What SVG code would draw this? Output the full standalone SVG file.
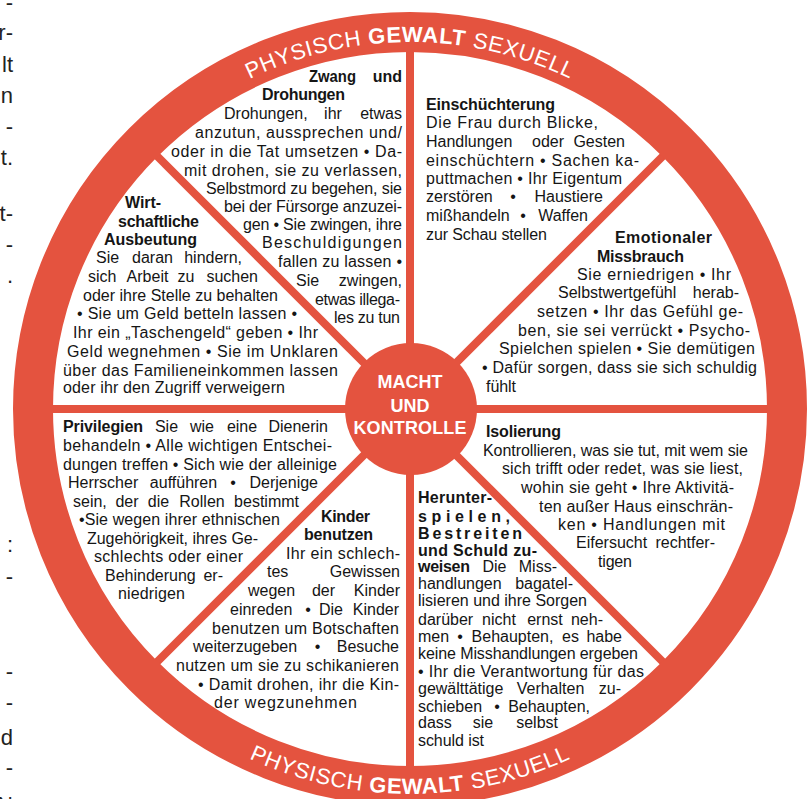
<svg xmlns="http://www.w3.org/2000/svg" width="808" height="799" viewBox="0 0 808 799">
<defs>
<style>
.t{font-family:"Liberation Sans",Arial,sans-serif;font-size:16px;fill:#151515}
.b{font-weight:bold}
.e{text-anchor:end}
.m{text-anchor:middle}
.ring{font-family:"Liberation Sans",Arial,sans-serif;font-size:22px;fill:#fff;letter-spacing:0.7px}
.c{font-family:"Liberation Sans",Arial,sans-serif;font-size:18px;font-weight:bold;fill:#fff;text-anchor:middle}
.spoke{stroke:#E4533F;stroke-width:8}
.frag{font-family:"Liberation Sans",Arial,sans-serif;font-size:22px;fill:#222;text-anchor:end}
</style>
<path id="arcTop" d="M 43 409 A 367 367 0 0 1 777 409"/>
<path id="arcBot" d="M 25 409 A 385 385 0 0 0 795 409"/>
</defs>
<rect width="808" height="799" fill="#fff"/>

<g id="margin-fragments">
<text class="frag" x="13" y="10">-</text>
<text class="frag" x="13" y="40">r-</text>
<text class="frag" x="13" y="72">lt</text>
<text class="frag" x="13" y="103">n</text>
<text class="frag" x="13" y="134">-</text>
<text class="frag" x="13" y="165">t.</text>
<text class="frag" x="13" y="221">t-</text>
<text class="frag" x="13" y="252">-</text>
<text class="frag" x="13" y="283">.</text>
<text class="frag" x="13" y="552">:</text>
<text class="frag" x="13" y="584">-</text>
<text class="frag" x="13" y="679">-</text>
<text class="frag" x="13" y="710">-</text>
<text class="frag" x="13" y="745">d</text>
<text class="frag" x="13" y="775">-</text>
<text class="frag" x="13" y="812">N</text>
</g>

<g id="connectors">
<line class="spoke" x1="410" y1="409" x2="410" y2="40"/>
<line class="spoke" x1="410" y1="409" x2="410" y2="778"/>
<line class="spoke" x1="410" y1="409" x2="41" y2="409"/>
<line class="spoke" x1="410" y1="409" x2="779" y2="409"/>
<line class="spoke" x1="410" y1="409" x2="149" y2="148"/>
<line class="spoke" x1="410" y1="409" x2="671" y2="148"/>
<line class="spoke" x1="410" y1="409" x2="149" y2="670"/>
<line class="spoke" x1="410" y1="409" x2="671" y2="670"/>
</g>

<g id="ring">
<circle cx="410" cy="409" r="377" fill="none" stroke="#E4533F" stroke-width="40"/>
<text class="ring"><textPath href="#arcTop" startOffset="50%" text-anchor="middle">PHYSISCH <tspan font-weight="bold">GEWALT</tspan> SEXUELL</textPath></text>
<text class="ring"><textPath href="#arcBot" startOffset="50%" text-anchor="middle">PHYSISCH <tspan font-weight="bold">GEWALT</tspan> SEXUELL</textPath></text>
</g>

<g id="center">
<circle cx="411" cy="409" r="66" fill="#E4533F"/>
<text class="c" x="410" y="388">MACHT</text>
<text class="c" x="410" y="412">UND</text>
<text class="c" x="410" y="434" textLength="113" lengthAdjust="spacing">KONTROLLE</text>
</g>

<g id="zwang">
<text class="t b" x="309" y="82" textLength="47" lengthAdjust="spacingAndGlyphs">Zwang</text>
<text class="t b e" x="402" y="82">und</text>
<text class="t b" x="262" y="100" textLength="83" lengthAdjust="spacing">Drohungen</text>
<text class="t" x="224" y="119">Drohungen,</text>
<text class="t m" x="333" y="119">ihr</text>
<text class="t e" x="402" y="119">etwas</text>
<text class="t" x="195" y="138" textLength="207" lengthAdjust="spacing">anzutun, aussprechen und/</text>
<text class="t" x="171" y="157" textLength="231" lengthAdjust="spacing">oder in die Tat umsetzen • Da-</text>
<text class="t" x="184" y="176" textLength="218" lengthAdjust="spacing">mit drohen, sie zu verlassen,</text>
<text class="t" x="206" y="194" textLength="196" lengthAdjust="spacing">Selbstmord zu begehen, sie</text>
<text class="t" x="224" y="212" textLength="178" lengthAdjust="spacing">bei der Fürsorge anzuzei-</text>
<text class="t" x="243" y="230" textLength="159" lengthAdjust="spacing">gen • Sie zwingen, ihre</text>
<text class="t" x="262" y="248" textLength="140" lengthAdjust="spacing">Beschuldigungen</text>
<text class="t" x="278" y="267" textLength="124" lengthAdjust="spacing">fallen zu lassen •</text>
<text class="t" x="296" y="286">Sie</text>
<text class="t e" x="402" y="286">zwingen,</text>
<text class="t" x="315" y="305" textLength="85" lengthAdjust="spacing">etwas illega-</text>
<text class="t" x="334" y="323" textLength="66" lengthAdjust="spacing">les zu tun</text>
</g>

<g id="einschuechterung">
<text class="t b" x="426" y="110" textLength="129" lengthAdjust="spacing">Einschüchterung</text>
<text class="t" x="426" y="128" textLength="172" lengthAdjust="spacing">Die Frau durch Blicke,</text>
<text class="t" x="426" y="147">Handlungen</text>
<text class="t m" x="548" y="147">oder</text>
<text class="t e" x="625" y="147">Gesten</text>
<text class="t" x="426" y="166" textLength="213" lengthAdjust="spacing">einschüchtern • Sachen ka-</text>
<text class="t" x="426" y="184" textLength="196" lengthAdjust="spacing">puttmachen • Ihr Eigentum</text>
<text class="t" x="426" y="202">zerstören</text>
<text class="t m" x="513" y="202">•</text>
<text class="t e" x="603" y="202">Haustiere</text>
<text class="t" x="426" y="221">mißhandeln</text>
<text class="t m" x="523" y="221">•</text>
<text class="t e" x="588" y="221">Waffen</text>
<text class="t" x="426" y="240" textLength="121" lengthAdjust="spacing">zur Schau stellen</text>
</g>

<g id="emotionaler-missbrauch">
<text class="t b" x="615" y="243" textLength="97" lengthAdjust="spacing">Emotionaler</text>
<text class="t b" x="597" y="262" textLength="87" lengthAdjust="spacing">Missbrauch</text>
<text class="t" x="577" y="280" textLength="154" lengthAdjust="spacing">Sie erniedrigen • Ihr</text>
<text class="t" x="558" y="298">Selbstwertgefühl</text>
<text class="t e" x="739" y="298">herab-</text>
<text class="t" x="537" y="317" textLength="206" lengthAdjust="spacing">setzen • Ihr das Gefühl ge-</text>
<text class="t" x="518" y="336" textLength="232" lengthAdjust="spacing">ben, sie sei verrückt • Psycho-</text>
<text class="t" x="499" y="354" textLength="256" lengthAdjust="spacing">Spielchen spielen • Sie demütigen</text>
<text class="t" x="482" y="373" textLength="275" lengthAdjust="spacing">• Dafür sorgen, dass sie sich schuldig</text>
<text class="t" x="486" y="392" textLength="30" lengthAdjust="spacing">fühlt</text>
</g>

<g id="wirtschaftliche-ausbeutung">
<text class="t b" x="125" y="208" textLength="36" lengthAdjust="spacing">Wirt-</text>
<text class="t b" x="118" y="227" textLength="81" lengthAdjust="spacing">schaftliche</text>
<text class="t b" x="104" y="245" textLength="93" lengthAdjust="spacing">Ausbeutung</text>
<text class="t" x="96" y="263">Sie</text>
<text class="t m" x="152.5" y="263">daran</text>
<text class="t e" x="242" y="263">hindern,</text>
<text class="t" x="88" y="282">sich</text>
<text class="t m" x="147.5" y="282">Arbeit</text>
<text class="t m" x="186" y="282">zu</text>
<text class="t e" x="258" y="282">suchen</text>
<text class="t" x="83" y="301" textLength="195" lengthAdjust="spacing">oder ihre Stelle zu behalten</text>
<text class="t" x="77" y="319" textLength="220" lengthAdjust="spacing">• Sie um Geld betteln lassen •</text>
<text class="t" x="73" y="338" textLength="245" lengthAdjust="spacing">Ihr ein „Taschengeld“ geben • Ihr</text>
<text class="t" x="67" y="357" textLength="271" lengthAdjust="spacing">Geld wegnehmen • Sie im Unklaren</text>
<text class="t" x="63" y="376" textLength="275" lengthAdjust="spacing">über das Familieneinkommen lassen</text>
<text class="t" x="63" y="393" textLength="222" lengthAdjust="spacing">oder ihr den Zugriff verweigern</text>
</g>

<g id="privilegien">
<text class="t b" x="63" y="432" textLength="80" lengthAdjust="spacing">Privilegien</text>
<text class="t m" x="166.5" y="432">Sie</text>
<text class="t m" x="202" y="432">wie</text>
<text class="t m" x="242" y="432">eine</text>
<text class="t e" x="328" y="432">Dienerin</text>
<text class="t" x="63" y="451" textLength="269" lengthAdjust="spacing">behandeln • Alle wichtigen Entschei-</text>
<text class="t" x="63" y="470" textLength="274" lengthAdjust="spacing">dungen treffen • Sich wie der alleinige</text>
<text class="t" x="68" y="488">Herrscher</text>
<text class="t m" x="183.5" y="488">aufführen</text>
<text class="t m" x="233" y="488">•</text>
<text class="t e" x="318" y="488">Derjenige</text>
<text class="t" x="73" y="507">sein,</text>
<text class="t m" x="127" y="507">der</text>
<text class="t m" x="158.5" y="507">die</text>
<text class="t m" x="202" y="507">Rollen</text>
<text class="t e" x="299" y="507">bestimmt</text>
<text class="t" x="79" y="525" textLength="201" lengthAdjust="spacing">•Sie wegen ihrer ethnischen</text>
<text class="t" x="87" y="544" textLength="171" lengthAdjust="spacing">Zugehörigkeit, ihres Ge-</text>
<text class="t" x="94" y="562" textLength="149" lengthAdjust="spacing">schlechts oder einer</text>
<text class="t" x="105" y="581">Behinderung</text>
<text class="t e" x="223" y="581">er-</text>
<text class="t" x="118" y="599" textLength="67" lengthAdjust="spacing">niedrigen</text>
</g>

<g id="kinder-benutzen">
<text class="t b" x="321" y="522" textLength="49" lengthAdjust="spacing">Kinder</text>
<text class="t b" x="304" y="540" textLength="69" lengthAdjust="spacing">benutzen</text>
<text class="t" x="286" y="559" textLength="114" lengthAdjust="spacing">Ihr ein schlech-</text>
<text class="t" x="267" y="577">tes</text>
<text class="t e" x="400" y="577">Gewissen</text>
<text class="t" x="248" y="596">wegen</text>
<text class="t m" x="323.5" y="596">der</text>
<text class="t e" x="400" y="596">Kinder</text>
<text class="t" x="230" y="615">einreden</text>
<text class="t m" x="308" y="615">•</text>
<text class="t m" x="331" y="615">Die</text>
<text class="t e" x="399" y="615">Kinder</text>
<text class="t" x="212" y="634" textLength="187" lengthAdjust="spacing">benutzen um Botschaften</text>
<text class="t" x="193" y="652">weiterzugeben</text>
<text class="t m" x="317.5" y="652">•</text>
<text class="t e" x="399" y="652">Besuche</text>
<text class="t" x="176" y="671" textLength="223" lengthAdjust="spacing">nutzen um sie zu schikanieren</text>
<text class="t" x="198" y="690" textLength="201" lengthAdjust="spacing">• Damit drohen, ihr die Kin-</text>
<text class="t" x="214" y="708" textLength="143" lengthAdjust="spacing">der wegzunehmen</text>
</g>

<g id="herunterspielen">
<text class="t b" x="418" y="503" textLength="74" lengthAdjust="spacing">Herunter-</text>
<text class="t b" x="418" y="522" textLength="92" lengthAdjust="spacing">spielen,</text>
<text class="t b" x="418" y="539" textLength="104" lengthAdjust="spacing">Bestreiten</text>
<text class="t b" x="418" y="556" textLength="119" lengthAdjust="spacing">und Schuld zu-</text>
<text class="t b" x="418" y="572" textLength="52" lengthAdjust="spacing">weisen</text>
<text class="t m" x="494.5" y="572">Die</text>
<text class="t e" x="557" y="572">Miss-</text>
<text class="t" x="418" y="589">handlungen</text>
<text class="t e" x="573" y="589">bagatel-</text>
<text class="t" x="418" y="606" textLength="169" lengthAdjust="spacing">lisieren und ihre Sorgen</text>
<text class="t" x="418" y="625">darüber</text>
<text class="t m" x="499" y="625">nicht</text>
<text class="t m" x="545" y="625">ernst</text>
<text class="t e" x="603" y="625">neh-</text>
<text class="t" x="418" y="642">men</text>
<text class="t m" x="460" y="642">•</text>
<text class="t m" x="512.5" y="642">Behaupten,</text>
<text class="t m" x="570.5" y="642">es</text>
<text class="t e" x="622" y="642">habe</text>
<text class="t" x="418" y="659" textLength="220" lengthAdjust="spacing">keine Misshandlungen ergeben</text>
<text class="t" x="418" y="677" textLength="226" lengthAdjust="spacing">• Ihr die Verantwortung für das</text>
<text class="t" x="418" y="694">gewälttätige</text>
<text class="t m" x="550.5" y="694">Verhalten</text>
<text class="t e" x="621" y="694">zu-</text>
<text class="t" x="418" y="712">schieben</text>
<text class="t m" x="497" y="712">•</text>
<text class="t e" x="590" y="712">Behaupten,</text>
<text class="t" x="418" y="728">dass</text>
<text class="t m" x="483" y="728">sie</text>
<text class="t e" x="558" y="728">selbst</text>
<text class="t" x="418" y="746" textLength="66" lengthAdjust="spacing">schuld ist</text>
</g>

<g id="isolierung">
<text class="t b" x="486" y="437" textLength="75" lengthAdjust="spacing">Isolierung</text>
<text class="t" x="483" y="456" textLength="265" lengthAdjust="spacing">Kontrollieren, was sie tut, mit wem sie</text>
<text class="t" x="502" y="474" textLength="241" lengthAdjust="spacing">sich trifft oder redet, was sie liest,</text>
<text class="t" x="521" y="493" textLength="213" lengthAdjust="spacing">wohin sie geht • Ihre Aktivitä-</text>
<text class="t" x="539" y="512" textLength="194" lengthAdjust="spacing">ten außer Haus einschrän-</text>
<text class="t" x="558" y="530" textLength="167" lengthAdjust="spacing">ken • Handlungen mit</text>
<text class="t" x="576" y="548">Eifersucht</text>
<text class="t e" x="715" y="548">rechtfer-</text>
<text class="t" x="598" y="567" textLength="34" lengthAdjust="spacing">tigen</text>
</g>
</svg>
